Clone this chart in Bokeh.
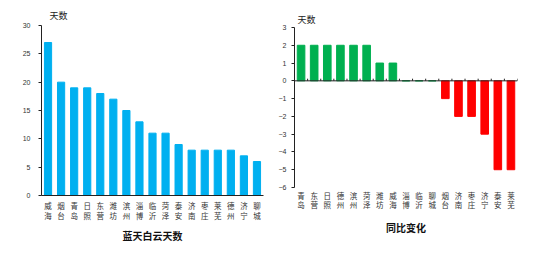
from bokeh.plotting import figure
from bokeh.layouts import row, column
from bokeh.models import Range1d, FixedTicker, SingleIntervalTicker, Span
from bokeh.embed import file_html
from bokeh.resources import INLINE

# Left chart: blue-sky days
left_cities = ["威海", "烟台", "青岛", "日照", "东营", "潍坊", "滨州", "淄博", "临沂",
               "菏泽", "泰安", "济南", "枣庄", "莱芜", "德州", "济宁", "聊城"]
left_values = [27, 20, 19, 19, 18, 17, 15, 13, 11, 11, 9, 8, 8, 8, 8, 7, 6]

# Right chart: year-on-year change
right_cities = ["青岛", "东营", "日照", "德州", "滨州", "菏泽", "潍坊", "威海", "淄博",
                "临沂", "聊城", "烟台", "济南", "枣庄", "济宁", "泰安", "莱芜"]
right_values = [2, 2, 2, 2, 2, 2, 1, 1, 0, 0, 0, -1, -2, -2, -3, -5, -5]

left_title = "蓝天白云天数"
right_title = "同比变化"
unit_label = "天数"

CJK = "Noto Sans CJK SC"
NUM = "Liberation Sans"


def stack(name):
    return "\n".join(list(name))


def style(p, xlabel, cities):
    n = len(cities)
    p.title.text = unit_label
    p.title.text_font = CJK
    p.title.text_font_size = "9px"
    p.title.text_font_style = "normal"
    p.title.text_color = "#222222"
    p.title.align = "left"
    p.outline_line_color = None
    p.xgrid.visible = False
    p.ygrid.visible = False
    p.background_fill_color = "white"
    p.border_fill_color = "white"
    p.yaxis.major_label_text_font = NUM
    p.yaxis.major_label_text_font_size = "7px"
    p.yaxis.major_label_text_color = "#333333"
    p.yaxis.axis_line_color = "#222222"
    p.yaxis.major_tick_line_color = "#222222"
    p.yaxis.major_tick_out = 3
    p.yaxis.major_tick_in = 0
    p.yaxis.minor_tick_line_color = None
    p.xaxis.ticker = FixedTicker(ticks=list(range(n)))
    p.xaxis.major_label_overrides = {i: stack(c) for i, c in enumerate(cities)}
    p.xaxis.minor_tick_line_color = None
    p.xaxis.major_tick_line_color = None
    p.xaxis.major_tick_out = 0
    p.xaxis.major_tick_in = 0
    p.xaxis.major_label_text_font = CJK
    p.xaxis.major_label_text_font_size = "7.5px"
    p.xaxis.major_label_text_color = "#333333"
    p.xaxis.axis_label = xlabel
    p.xaxis.axis_label_text_font = CJK
    p.xaxis.axis_label_text_font_size = "10px"
    p.xaxis.axis_label_text_font_style = "bold"
    p.xaxis.axis_label_text_color = "#111111"


# ---- left figure
n1 = len(left_cities)
p1 = figure(width=275, height=253, x_range=Range1d(-0.5, n1 - 0.5),
            y_range=Range1d(0, 30), output_backend="svg", toolbar_location=None,
            min_border_left=41, min_border_right=12, min_border_top=25, min_border_bottom=58)
p1.vbar(x=list(range(n1)), top=left_values, width=0.55, color="#00B0F0")
style(p1, left_title, left_cities)
p1.title.offset = 8
p1.title.standoff = 8
p1.yaxis.ticker = SingleIntervalTicker(interval=5)
p1.yaxis.major_label_standoff = 7
p1.xaxis.axis_line_color = "#222222"
p1.xaxis.major_label_text_line_height = 0.95
p1.xaxis.major_label_standoff = 4
p1.xaxis.axis_label_standoff = 4

# ---- right figure
n2 = len(right_cities)
colors = ["#00B050" if v >= 0 else "#FF0000" for v in right_values]
p2 = figure(width=275, height=253, x_range=Range1d(-0.5, n2 - 0.5),
            y_range=Range1d(-6, 3), output_backend="svg", toolbar_location=None,
            min_border_left=17, min_border_right=33, min_border_top=27, min_border_bottom=66)
p2.vbar(x=list(range(n2)), top=right_values, width=0.58, color=colors)
style(p2, right_title, right_cities)
p2.title.offset = 3
p2.title.standoff = 3
p2.yaxis.ticker = SingleIntervalTicker(interval=1)
p2.yaxis.major_label_standoff = 4
p2.xaxis.axis_line_color = None
p2.xaxis.major_label_text_line_height = 0.85
p2.xaxis.major_label_standoff = 2
p2.xaxis.axis_label_standoff = 7

# zero line with small ticks at category boundaries
p2.add_layout(Span(location=0, dimension="width", line_color="#222222", line_width=1))
bounds = [i - 0.5 for i in range(1, n2 + 1)]
p2.segment(x0=bounds, x1=bounds, y0=[0] * len(bounds), y1=[0.12] * len(bounds),
           line_color="#222222", line_width=1)

layout = row(column(p1), column(p2))
open("out.html", "w").write(file_html(layout, INLINE))
